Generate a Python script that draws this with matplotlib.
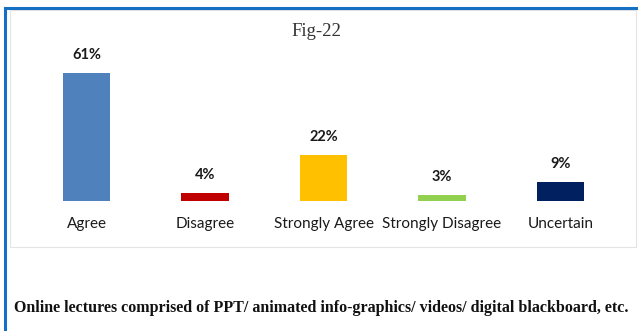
import matplotlib
matplotlib.use("Agg")
import matplotlib.pyplot as plt
from matplotlib.patches import Rectangle
from matplotlib.lines import Line2D

categories = ["Agree", "Disagree", "Strongly Agree", "Strongly Disagree", "Uncertain"]
percentages = [61, 4, 22, 3, 9]
bar_colors = ["#4f81bd", "#c00000", "#ffc000", "#92d050", "#002060"]
title_text = "Fig-22"
caption_text = "Online lectures comprised of PPT/ animated info-graphics/ videos/ digital blackboard, etc."

W, H = 638, 331
fig = plt.figure(figsize=(W / 100, H / 100), dpi=100)
fig.patch.set_facecolor("white")

def px(x, y):
    """Pixel coordinates (from top-left) to figure fraction."""
    return x / W, 1 - y / H

# light chart-area frame
fx0, fy0 = px(10, 247)
fx1, fy1 = px(636, 10)
fig.patches.append(Rectangle((fx0, fy0), fx1 - fx0, fy1 - fy0, transform=fig.transFigure,
                             fill=False, edgecolor="#e4e4e4", linewidth=0.8, zorder=0))

# blue outer border on top and left
blue = "#1570c4"
x0, y0 = px(5, 8)
fig.lines.append(Line2D([x0, 1.0], [y0, y0], transform=fig.transFigure, color=blue, linewidth=2.2))
fig.lines.append(Line2D([x0, x0], [0.0, y0], transform=fig.transFigure, color=blue, linewidth=2.2))

# axes: baseline at y=201 px, 2.1 px per percent, bar centres 118.5 px apart
left = 27.25 / W
width = 592.5 / W
bottom = (H - 201) / H
height = 147 / H
ax = fig.add_axes([left, bottom, width, height])
ax.set_xlim(-0.5, 4.5)
ax.set_ylim(0, 70)
ax.axis("off")

xs = range(len(categories))
ax.bar(xs, percentages, width=0.4, color=bar_colors, zorder=2)

for x, v, name in zip(xs, percentages, categories):
    ax.annotate(f"{v}%", (x, v), xytext=(0, 18), textcoords="offset pixels",
                ha="center", va="center", fontsize=10.5, fontweight="bold",
                family="Lato", color="#1a1a1a")
    ax.annotate(name, (x, 0), xytext=(0, -23), textcoords="offset pixels",
                ha="center", va="center", fontsize=11, family="Lato", color="#1a1a1a")

tx, ty = px(316, 32)
fig.text(tx, ty, title_text, ha="center", va="center", fontsize=13.5,
         family="Liberation Serif", color="#333333")

cx, cy = px(321, 308)
fig.text(cx, cy, caption_text, ha="center", va="center", fontsize=11.5,
         family="Liberation Serif", fontweight="bold", color="#111111")

fig.savefig("out.png", dpi=100)
